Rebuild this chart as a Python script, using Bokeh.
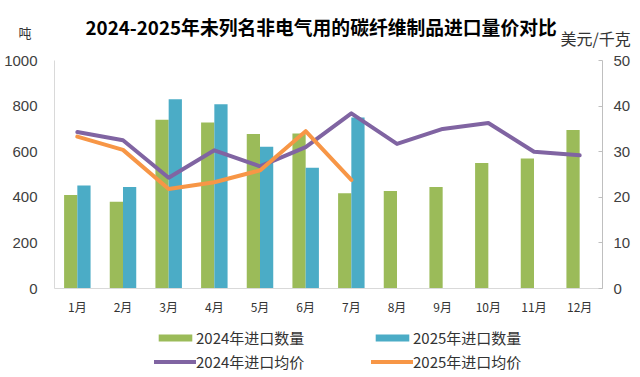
from bokeh.plotting import figure
from bokeh.models import (ColumnDataSource, Range1d, LinearAxis, Legend, LegendItem,
                          Label, FixedTicker)
from bokeh.layouts import column
from bokeh.transform import dodge
from bokeh.embed import file_html
from bokeh.resources import INLINE

months = ['1月', '2月', '3月', '4月', '5月', '6月', '7月', '8月', '9月', '10月', '11月', '12月']
months_2025 = months[:7]
qty_2024 = [410, 380, 740, 728, 678, 680, 418, 428, 445, 550, 570, 695]
qty_2025 = [452, 445, 830, 808, 622, 530, 750]
price_2024 = [34.3, 32.5, 24.3, 30.3, 26.8, 31.0, 38.4, 31.7, 35.0, 36.3, 30.0, 29.2]
price_2025 = [33.3, 30.4, 21.8, 23.3, 25.9, 34.5, 23.8]
left_ticks = [0, 200, 400, 600, 800, 1000]
right_ticks = [0, 10, 20, 30, 40, 50]

title_text = '2024-2025年未列名非电气用的碳纤维制品进口量价对比'
left_unit = '吨'
right_unit = '美元/千克'
series_names = ['2024年进口数量', '2025年进口数量', '2024年进口均价', '2025年进口均价']

GREEN = '#9BBB59'
BLUE = '#4BACC6'
PURPLE = '#8064A2'
ORANGE = '#F79646'
CJK = 'Noto Sans CJK SC'


def bare(fig):
    fig.outline_line_color = None
    fig.grid.visible = False
    return fig


def hide_axis_marks(ax):
    ax.axis_line_color = None
    ax.major_tick_line_color = None
    ax.minor_tick_line_color = None
    ax.major_tick_out = 0
    ax.major_tick_in = 0


src24 = ColumnDataSource(dict(m=months, q=qty_2024, p=price_2024))
src25 = ColumnDataSource(dict(m=months_2025, q=qty_2025, p=price_2025))

# ---------- header: title and the two unit labels ----------
# frame spans x 54..602 (aligned with the chart below); data units = pixels
head = bare(figure(width=640, height=52, x_range=Range1d(54, 602), y_range=Range1d(0, 52),
                   x_axis_location=None, y_axis_location=None,
                   min_border_left=54, min_border_right=38, min_border_top=0, min_border_bottom=0,
                   output_backend="svg", toolbar_location=None))
head.add_layout(Label(x=85, y=26, text=title_text, text_align='left', text_baseline='middle',
                      text_font=CJK, text_font_style='bold', text_font_size='18.8px',
                      text_color='#000000'))
unit_l = LinearAxis(ticker=FixedTicker(ticks=[20]), major_label_overrides={20: left_unit})
hide_axis_marks(unit_l)
unit_l.major_label_standoff = 23
unit_l.major_label_text_font = CJK
unit_l.major_label_text_font_size = '13px'
unit_l.major_label_text_color = '#333333'
head.add_layout(unit_l, 'left')
unit_r = LinearAxis(ticker=FixedTicker(ticks=[9.5]), major_label_overrides={9.5: right_unit})
hide_axis_marks(unit_r)
unit_r.major_label_standoff = -42
unit_r.major_label_text_font = CJK
unit_r.major_label_text_font_size = '16px'
unit_r.major_label_text_color = '#333333'
head.add_layout(unit_r, 'right')

# ---------- main chart ----------
p = bare(figure(x_range=months, y_range=Range1d(0, 1000), width=640, height=270,
                output_backend="svg", toolbar_location=None,
                min_border_left=54, min_border_right=38, min_border_top=8, min_border_bottom=34))
p.extra_y_ranges = {'price': Range1d(0, 50)}

ya = p.yaxis[0]
ya.ticker = FixedTicker(ticks=left_ticks)
ya.axis_line_color = '#D9D9D9'
ya.major_tick_line_color = None
ya.minor_tick_line_color = None
ya.major_tick_out = 0
ya.major_tick_in = 0
ya.major_label_standoff = 17
ya.major_label_text_font_size = '15px'
ya.major_label_text_color = '#404040'
ya.major_label_text_font = 'Liberation Sans'

ra = LinearAxis(y_range_name='price', ticker=FixedTicker(ticks=right_ticks))
ra.axis_line_color = '#BFBFBF'
ra.major_tick_line_color = '#BFBFBF'
ra.minor_tick_line_color = None
ra.major_tick_out = 0
ra.major_tick_in = 4
ra.major_label_standoff = 11
ra.major_label_text_font_size = '15px'
ra.major_label_text_color = '#404040'
ra.major_label_text_font = 'Liberation Sans'
p.add_layout(ra, 'right')

xa = p.xaxis[0]
xa.axis_line_color = '#D9D9D9'
xa.major_tick_line_color = None
xa.major_tick_out = 0
xa.major_tick_in = 0
xa.major_label_standoff = 9
xa.major_label_text_font_size = '12px'
xa.major_label_text_font = CJK
xa.major_label_text_color = '#333333'

p.vbar(x=dodge('m', -0.145, range=p.x_range), top='q', width=0.29, source=src24,
       fill_color=GREEN, line_color=None)
p.vbar(x=dodge('m', 0.145, range=p.x_range), top='q', width=0.29, source=src25,
       fill_color=BLUE, line_color=None)
p.line(x='m', y='p', source=src24, y_range_name='price', line_color=PURPLE,
       line_width=4, line_join='round', line_cap='round')
p.line(x='m', y='p', source=src25, y_range_name='price', line_color=ORANGE,
       line_width=4, line_join='round', line_cap='round')

# ---------- legend strip (same series, drawn off-range so only the legend shows) ----------
leg = bare(figure(width=640, height=55, x_range=months, y_range=Range1d(5000, 6000),
                  x_axis_location=None, y_axis_location=None,
                  min_border_left=54, min_border_right=38, min_border_top=0, min_border_bottom=0,
                  output_backend="svg", toolbar_location=None))
k1 = leg.vbar(x='m', top='q', width=0.29, source=src24, fill_color=GREEN, line_color=None)
k2 = leg.vbar(x='m', top='q', width=0.29, source=src25, fill_color=BLUE, line_color=None)
k3 = leg.line(x='m', y='p', source=src24, line_color=PURPLE, line_width=4, line_cap='round')
k4 = leg.line(x='m', y='p', source=src25, line_color=ORANGE, line_width=4, line_cap='round')
legend = Legend(items=[LegendItem(label=n, renderers=[r])
                       for n, r in zip(series_names, [k1, k2, k3, k4])],
                ncols=2, orientation='horizontal', location=(100, 5),
                glyph_width=42, glyph_height=9, label_height=16, label_width=172,
                label_standoff=0, spacing=3, padding=0, margin=0,
                border_line_alpha=0, background_fill_alpha=0,
                label_text_font=CJK, label_text_font_size='15px', label_text_color='#333333')
leg.add_layout(legend)

layout = column(head, p, leg, spacing=0)
open("out.html", "w").write(file_html(layout, INLINE))
